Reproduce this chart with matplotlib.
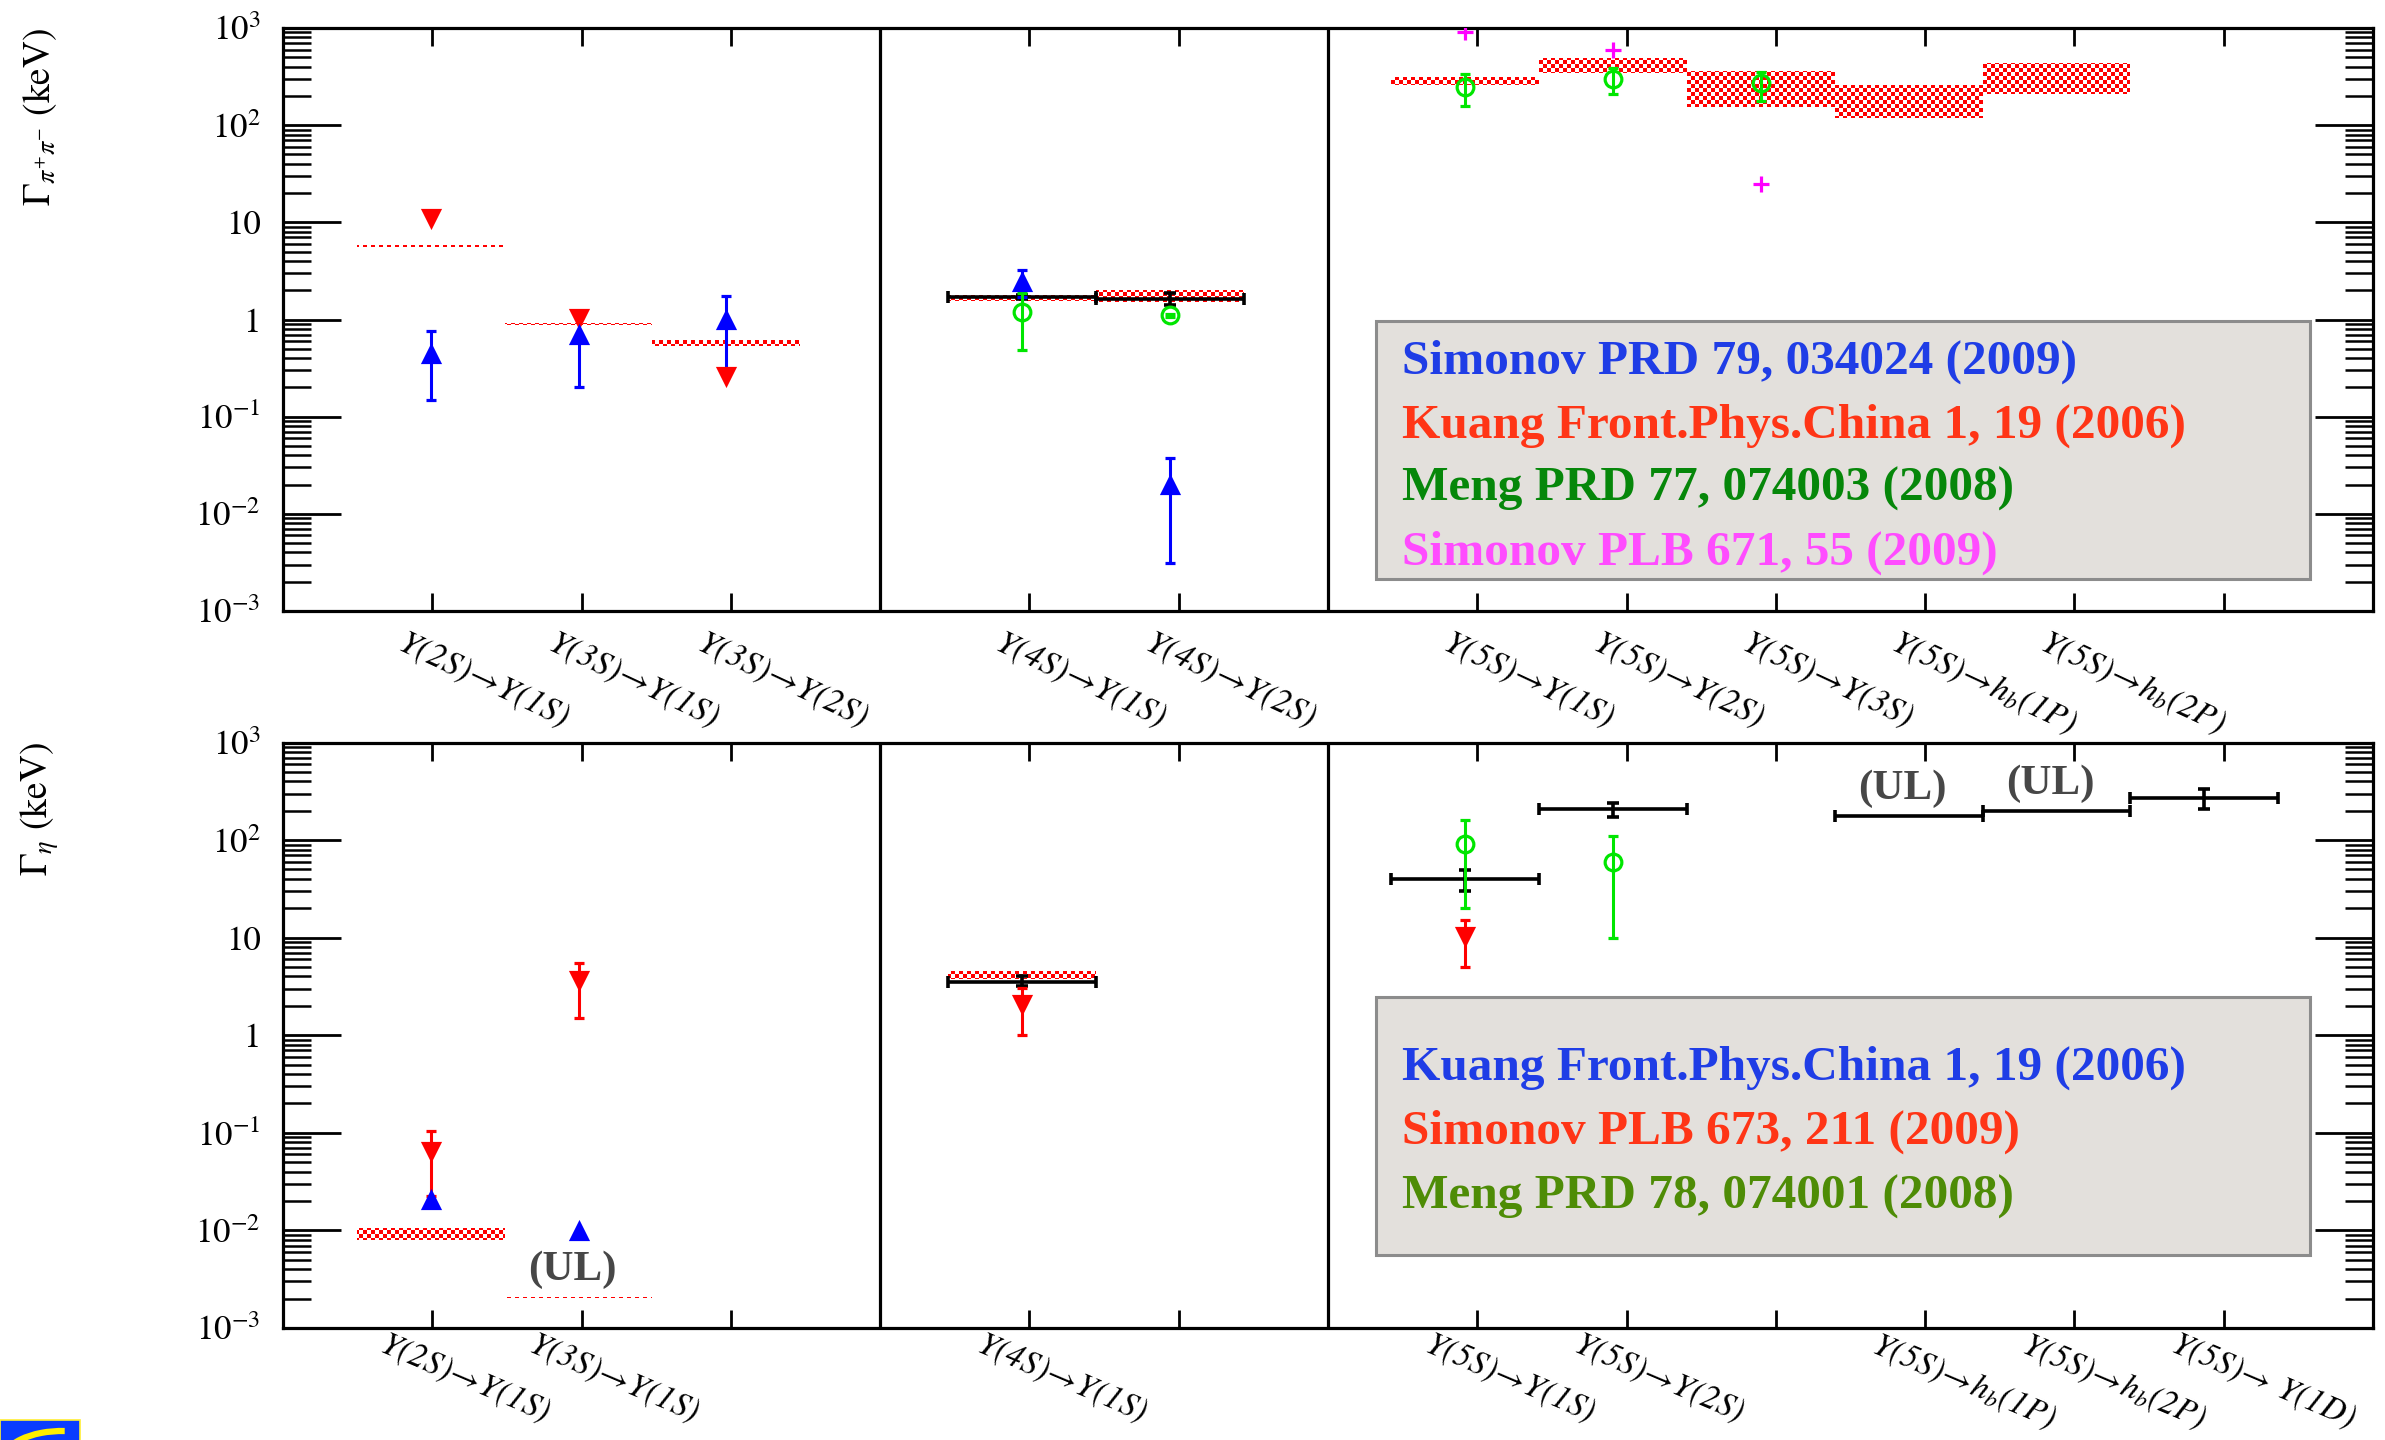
import numpy as np
import matplotlib
matplotlib.use("Agg")
import matplotlib.pyplot as plt
from matplotlib.path import Path
from matplotlib.image import AxesImage
from matplotlib.patches import Rectangle, Arc
from matplotlib.transforms import Affine2D, blended_transform_factory, ScaledTranslation
from matplotlib.ticker import FixedLocator, FixedFormatter, LogLocator, NullFormatter

# ---------------------------------------------------------------- data
# category slots on the x axis (4 and 7 are the section dividers)
TICK_POS = [1, 2, 3, 5, 6, 8, 9, 10, 11, 12, 13]

ARROW = r"$\!\rightarrow\!$"
HB = r"$\!\rightarrow\! h_b$"
pp_label_pos = [1, 2, 3, 5, 6, 8, 9, 10, 11, 12]
pp_labels = ["Y(2S)" + ARROW + "Y(1S)", "Y(3S)" + ARROW + "Y(1S)", "Y(3S)" + ARROW + "Y(2S)",
             "Y(4S)" + ARROW + "Y(1S)", "Y(4S)" + ARROW + "Y(2S)",
             "Y(5S)" + ARROW + "Y(1S)", "Y(5S)" + ARROW + "Y(2S)", "Y(5S)" + ARROW + "Y(3S)",
             "Y(5S)" + HB + "(1P)", "Y(5S)" + HB + "(2P)"]

eta_label_pos = [1, 2, 5, 8, 9, 11, 12, 13]
eta_labels = ["Y(2S)" + ARROW + "Y(1S)", "Y(3S)" + ARROW + "Y(1S)", "Y(4S)" + ARROW + "Y(1S)",
              "Y(5S)" + ARROW + "Y(1S)", "Y(5S)" + ARROW + "Y(2S)",
              "Y(5S)" + HB + "(1P)", "Y(5S)" + HB + "(2P)",
              "Y(5S)" + ARROW + " Y(1D)"]

# --- pi+ pi- transitions (keV)
pp_band_pos = [1, 2, 3, 5, 6, 8, 9, 10, 11, 12]
pp_band_lo = [5.6, 0.87, 0.54, 1.56, 1.53, 257, 347, 153, 119, 209]
pp_band_hi = [5.9, 0.93, 0.61, 1.80, 2.01, 310, 495, 364, 262, 438]

pp_exp_pos = [5, 6]
pp_exp_val = [1.70, 1.63]
pp_exp_lo = [1.62, 1.42]
pp_exp_hi = [1.78, 1.88]

pp_simonov_prd_pos = [1, 2, 3, 5, 6]
pp_simonov_prd_val = [0.44, 0.70, 1.00, 2.44, 0.020]
pp_simonov_prd_lo = [0.15, 0.20, 0.30, 1.70, 0.0031]
pp_simonov_prd_hi = [0.76, 1.22, 1.73, 3.20, 0.0375]

pp_kuang_pos = [1, 2, 3]
pp_kuang_val = [11.1, 1.04, 0.26]

pp_meng_pos = [5, 6, 8, 9, 10]
pp_meng_val = [1.20, 1.10, 250, 301, 269]
pp_meng_lo = [0.49, 1.05, 156, 207, 177]
pp_meng_hi = [1.88, 1.15, 340, 392, 356]

pp_simonov_plb_pos = [8, 9, 10]
pp_simonov_plb_val = [910, 597, 24.7]

# --- eta transitions (keV)
eta_band_pos = [1, 2, 5]
eta_band_lo = [0.0080, 0.00203, 3.81]
eta_band_hi = [0.0106, 0.00210, 4.60]

eta_exp_pos = [5, 8, 9, 13]
eta_exp_val = [3.52, 39.5, 206, 272]
eta_exp_lo = [3.23, 29.9, 172, 210]
eta_exp_hi = [4.03, 49.4, 240, 336]

eta_ul_pos = [11, 12]
eta_ul_val = [178, 199]
eta_ul_text_pos = [2, 11, 12]
eta_ul_text_ref = [0.00207, 178, 199]

eta_kuang_pos = [1, 2]
eta_kuang_val = [0.0207, 0.0098]

eta_simonov_pos = [1, 2, 5, 8]
eta_simonov_val = [0.065, 3.7, 2.07, 10.4]
eta_simonov_lo = [0.0227, 1.51, 1.00, 5.0]
eta_simonov_hi = [0.105, 5.5, 3.05, 15.0]

eta_meng_pos = [8, 9]
eta_meng_val = [91, 60]
eta_meng_lo = [20.3, 10]
eta_meng_hi = [159, 110]

pp_refs = [("Simonov PRD 79, 034024 (2009)", "#1f3de6"),
           ("Kuang Front.Phys.China 1, 19 (2006)", "#ff3516"),
           ("Meng PRD 77, 074003 (2008)", "#06870a"),
           ("Simonov PLB 671, 55 (2009)", "#ff4cff")]
eta_refs = [("Kuang Front.Phys.China 1, 19 (2006)", "#1f3de6"),
            ("Simonov PLB 673, 211 (2009)", "#ff3516"),
            ("Meng PRD 78, 074001 (2008)", "#4e8c06")]

Y_MAJOR = [1e-3, 1e-2, 1e-1, 1, 10, 1e2, 1e3]
Y_MAJOR_LABELS = ["$10^{-3}$", "$10^{-2}$", "$10^{-1}$", "1", "10", "$10^{2}$", "$10^{3}$"]

# ---------------------------------------------------------------- style
plt.rcParams["mathtext.fontset"] = "stix"
plt.rcParams["font.family"] = ["STIXGeneral", "DejaVu Serif"]

W_PX, H_PX, DPI = 2385, 1440, 100
MARK_SCALE = 0.99     # marks sit slightly left of the category ticks
HALF = 0.495          # half width of bands / horizontal bars

BLUE, RED, GREEN, MAGENTA = "#0000ff", "#ff0000", "#00e600", "#ff00ff"

fig = plt.figure(figsize=(W_PX / DPI, H_PX / DPI), dpi=DPI)
# pixel coordinates with origin at the top-left corner
PX = Affine2D().scale(1.0 / W_PX, -1.0 / H_PX).translate(0, 1) + fig.transFigure


def axes_px(left, top, right, bottom):
    return fig.add_axes([left / W_PX, 1 - bottom / H_PX,
                         (right - left) / W_PX, (bottom - top) / H_PX])


ax_pp = axes_px(283, 28, 2373, 611)
ax_eta = axes_px(283, 742.5, 2373, 1328)


def style_axes(ax):
    ax.set_xlim(0, 14)
    ax.set_yscale("log")
    ax.set_ylim(1e-3, 1e3)
    for s in ax.spines.values():
        s.set_linewidth(2.3)
    ax.set_xticks(TICK_POS)
    ax.set_xticklabels([])
    ax.tick_params(axis="x", which="major", direction="in", top=True, bottom=True,
                   length=13, width=2)
    ax.yaxis.set_major_locator(FixedLocator(Y_MAJOR))
    ax.yaxis.set_major_formatter(FixedFormatter(Y_MAJOR_LABELS))
    ax.yaxis.set_minor_locator(LogLocator(base=10, subs=np.arange(2, 10), numticks=100))
    ax.yaxis.set_minor_formatter(NullFormatter())
    ax.tick_params(axis="y", which="major", direction="in", left=True, right=True,
                   length=42, width=2, pad=16, labelsize=25)
    ax.tick_params(axis="y", which="minor", direction="in", left=True, right=True,
                   length=20, width=1.8)
    for xd in (4, 7):
        ax.axvline(xd, color="k", lw=2.3, zorder=1)


def category_labels(ax, pos, labels, dx, rot, drop_pt, size):
    off = ScaledTranslation(0, -drop_pt / 72, fig.dpi_scale_trans)
    tr = blended_transform_factory(ax.transData, ax.transAxes) + off
    for p, s in zip(pos, labels):
        ax.text(p + dx, 0, s, transform=tr, ha="left", va="top", rotation=rot,
                rotation_mode="anchor", fontsize=size, style="italic", clip_on=False)


def checker_bands(ax, pos, lo, hi, cell=4):
    bb = ax.get_position()
    w = int(round(bb.width * W_PX))
    h = int(round(bb.height * H_PX))
    yy, xx = np.mgrid[0:h, 0:w]
    on = ((xx // cell + yy // cell) % 2) == 0
    rgba = np.zeros((h, w, 4))
    rgba[on] = (1.0, 0.0, 0.0, 1.0)
    im = AxesImage(ax, interpolation="nearest", extent=(0, 1, 0, 1),
                   transform=ax.transAxes, zorder=2)
    im.set_data(rgba)
    ax.add_image(im)
    paths = []
    for p, a, b in zip(pos, lo, hi):
        xc = p * MARK_SCALE
        paths.append(Path([(xc - HALF, a), (xc + HALF, a), (xc + HALF, b),
                           (xc - HALF, b), (xc - HALF, a)], closed=True))
    im.set_clip_path(Path.make_compound_path(*paths), ax.transData)


def points(ax, pos, val, color, marker, lo=None, hi=None, ms=11.5, hollow=False):
    x = np.asarray(pos) * MARK_SCALE
    v = np.asarray(val, dtype=float)
    yerr = None
    if lo is not None:
        yerr = [v - np.asarray(lo), np.asarray(hi) - v]
    ax.errorbar(x, v, yerr=yerr, fmt=marker, linestyle="none", color=color,
                ms=ms, mec=color, mfc="none" if hollow else color, mew=2.3,
                elinewidth=2.2, capsize=3.5, capthick=2.2, zorder=4)


def exp_bars(ax, pos, val, lo=None, hi=None):
    x = np.asarray(pos) * MARK_SCALE
    v = np.asarray(val, dtype=float)
    yerr = None
    if lo is not None:
        yerr = [v - np.asarray(lo), np.asarray(hi) - v]
    ax.errorbar(x, v, xerr=HALF, yerr=yerr, fmt="none", ecolor="k",
                elinewidth=2.6, capsize=4, capthick=2.6, zorder=3)


def legend_box(left, top, right, bottom, entries, baselines):
    fig.add_artist(Rectangle((left, top), right - left, bottom - top, transform=PX,
                             facecolor="#e3e0dc", edgecolor="#8c8c8c", lw=2.2, zorder=5))
    for (txt, col), yb in zip(entries, baselines):
        fig.text(left + 26, yb, txt, transform=PX, color=col, fontsize=35.5,
                 fontweight="bold", family=["Liberation Serif", "DejaVu Serif"],
                 ha="left", va="baseline", zorder=6)


# ---------------------------------------------------------------- pi+ pi- panel
style_axes(ax_pp)
checker_bands(ax_pp, pp_band_pos, pp_band_lo, pp_band_hi)
exp_bars(ax_pp, pp_exp_pos, pp_exp_val, pp_exp_lo, pp_exp_hi)
points(ax_pp, pp_kuang_pos, pp_kuang_val, RED, "v")
points(ax_pp, pp_simonov_prd_pos, pp_simonov_prd_val, BLUE, "^",
       pp_simonov_prd_lo, pp_simonov_prd_hi)
points(ax_pp, pp_meng_pos, pp_meng_val, GREEN, "o", pp_meng_lo, pp_meng_hi,
       ms=12, hollow=True)
points(ax_pp, pp_simonov_plb_pos, pp_simonov_plb_val, MAGENTA, "+", ms=12)
category_labels(ax_pp, pp_label_pos, pp_labels, -0.17, -25, 11, 24.5)

# ---------------------------------------------------------------- eta panel
style_axes(ax_eta)
checker_bands(ax_eta, eta_band_pos, eta_band_lo, eta_band_hi)
exp_bars(ax_eta, eta_exp_pos, eta_exp_val, eta_exp_lo, eta_exp_hi)
exp_bars(ax_eta, eta_ul_pos, eta_ul_val)
points(ax_eta, eta_kuang_pos, eta_kuang_val, BLUE, "^")
points(ax_eta, eta_simonov_pos, eta_simonov_val, RED, "v",
       eta_simonov_lo, eta_simonov_hi)
points(ax_eta, eta_meng_pos, eta_meng_val, GREEN, "o", eta_meng_lo, eta_meng_hi,
       ms=12, hollow=True)
for p, ref in zip(eta_ul_text_pos, eta_ul_text_ref):
    ax_eta.text(p * MARK_SCALE - 0.04, ref * 1.9, "(UL)", ha="center", va="center",
                fontsize=31, fontweight="bold", color="#474747",
                family=["Liberation Serif", "DejaVu Serif"], zorder=5)
category_labels(ax_eta, eta_label_pos, eta_labels, -0.3, -23, 0.5, 24)

# ---------------------------------------------------------------- axis titles
fig.text(40, 28, r"$\Gamma_{\pi^{+}\pi^{-}}$ (keV)", transform=PX, rotation=90,
         ha="center", va="top", fontsize=27)
fig.text(40, 742, r"$\Gamma_{\eta}$ (keV)", transform=PX, rotation=90,
         ha="center", va="top", fontsize=27)

# ---------------------------------------------------------------- reference boxes
legend_box(1376, 321, 2310, 579, pp_refs, [374, 438, 501, 565])
legend_box(1376, 997, 2310, 1255, eta_refs, [1080, 1144, 1209])

# ---------------------------------------------------------------- corner badge
badge = Rectangle((0, 1420), 80, 22, transform=PX, facecolor="#0a3cff",
                  edgecolor="#ffee33", lw=1.2, zorder=5)
fig.add_artist(badge)
ring = Arc((62, 1462), 120, 62, theta1=180, theta2=275, transform=PX,
           color="#ffee00", lw=4.5, zorder=6)
ring.set_clip_path(badge)
fig.add_artist(ring)

fig.savefig("out.png", dpi=DPI)
